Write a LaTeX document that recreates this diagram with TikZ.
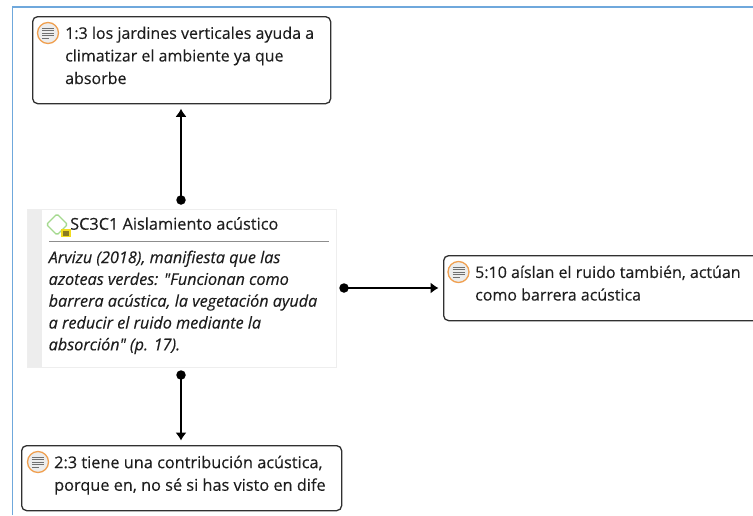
\documentclass[tikz,border=0pt]{standalone}
\usepackage{fontspec}
\setmainfont{Open Sans}
\newfontfamily\medfont[FakeBold=0.2,ItalicFeatures={FakeBold=0.2}]{Open Sans}
\usetikzlibrary{arrows.meta}
\definecolor{frameblue}{HTML}{6FA8DC}
\definecolor{boxline}{HTML}{303030}
\definecolor{ringorange}{HTML}{F0A050}
\definecolor{iconfill}{HTML}{EDEDED}
\definecolor{iconline}{HTML}{707070}
\definecolor{memoedge}{HTML}{EEEEEE}
\definecolor{memostrip}{HTML}{EDEDED}
\definecolor{diamondgreen}{HTML}{A5D98F}
\definecolor{tagyellow}{HTML}{F2DC1E}
\definecolor{tagdark}{HTML}{8A7A20}
\definecolor{textdark}{HTML}{1E1E1E}
\tikzset{
  x=1pt,y=-1pt,
  quotebox/.style={draw=boxline,line width=1.3pt,rounded corners=5pt,fill=white,anchor=north west,inner sep=0pt},
  lbl/.style={anchor=north west,inner sep=0pt,align=left,text=textdark,font=\medfont\fontsize{16}{22.6}\selectfont},
  lblwide/.style={lbl,font=\medfont\fontsize{16.3}{22.6}\selectfont},
  memotext/.style={anchor=north west,inner sep=0pt,align=left,text=textdark,font=\medfont\fontsize{16.2}{21.8}\selectfont\itshape},
  conn/.style={line width=1.1pt,black,shorten >=4.5pt,-{Latex[length=8pt,width=11pt]}},
  startdot/.style={circle,fill=black,inner sep=0pt,minimum size=9.5pt},
}
\newcommand{\quoteicon}[2]{%
  \fill[iconfill,draw=ringorange,line width=1.3pt] (#1,#2) circle (10.5);
  \foreach \dy/\hw in {-5/6.5,-2.5/6.5,0/6.5,2.5/6.5,5/4}{
    \draw[iconline,line width=0.8pt] ({#1-6},{#2+\dy}) -- ({#1-6+2*\hw-1},{#2+\dy});
  }%
}
\begin{document}
\begin{tikzpicture}
\useasboundingbox (0,0) rectangle (753,515);
\fill[white] (0,0) rectangle (753,515);
\draw[frameblue,line width=1.5pt] (12.5,515) -- (12.5,7) -- (753,7);
% quotation boxes
\node[quotebox,minimum width=298pt,minimum height=87pt] (q1) at (32,16) {};
\node[quotebox,minimum width=322pt,minimum height=65pt] (q5) at (443,255) {};
\node[quotebox,minimum width=320pt,minimum height=65pt] (q2) at (21,445) {};
% memo
\node[anchor=north west,draw=memoedge,fill=white,line width=0.8pt,minimum width=309pt,minimum height=158pt,inner sep=0pt] (memo) at (27,209) {};
\fill[memostrip] (27.5,209.5) rectangle (42,366.5);
\draw[iconline!80,line width=0.9pt] (49,241.5) -- (329,241.5);
\draw[diamondgreen,line width=1.4pt,rounded corners=1.5pt] (57,214) -- (67.5,224.5) -- (57,235) -- (46.5,224.5) -- cycle;
\fill[tagyellow] (60.5,229) rectangle (71,237);
\fill[tagdark] (63,231) rectangle (69,236);
\node[lblwide] (mt) at (70,217) {SC3C1 Aislamiento acústico};
\node[memotext] (mb) at (48.5,250.5) {Arvizu (2018), manifiesta que las\\azoteas verdes: "Funcionan como\\barrera acústica, la vegetación ayuda\\a reducir el ruido mediante la\\absorción" (p. 17).};
% icons and texts
\quoteicon{48}{33}
\quoteicon{458.5}{272}
\quoteicon{38}{462}
\node[lbl] (t1) at (65,26.5) {1:3 los jardines verticales ayuda a\\climatizar el ambiente ya que\\absorbe};
\node[lbl] (t5) at (475,265.5) {5:10 aíslan el ruido también, actúan\\como barrera acústica};
\node[lblwide] (t2) at (54,455.5) {2:3 tiene una contribución acústica,\\porque en, no sé si has visto en dife};
% connectors
\coordinate (d1) at (181,200);
\coordinate (d5) at (344,288);
\coordinate (d2) at (181,375);
\node[startdot] at (d1) {};
\node[startdot] at (d5) {};
\node[startdot] at (d2) {};
\draw[conn] (d1) -- (d1 |- q1.south);
\draw[conn] (d5) -- (q5.west |- d5);
\draw[conn] (d2) -- (d2 |- q2.north);
\end{tikzpicture}
\end{document}
